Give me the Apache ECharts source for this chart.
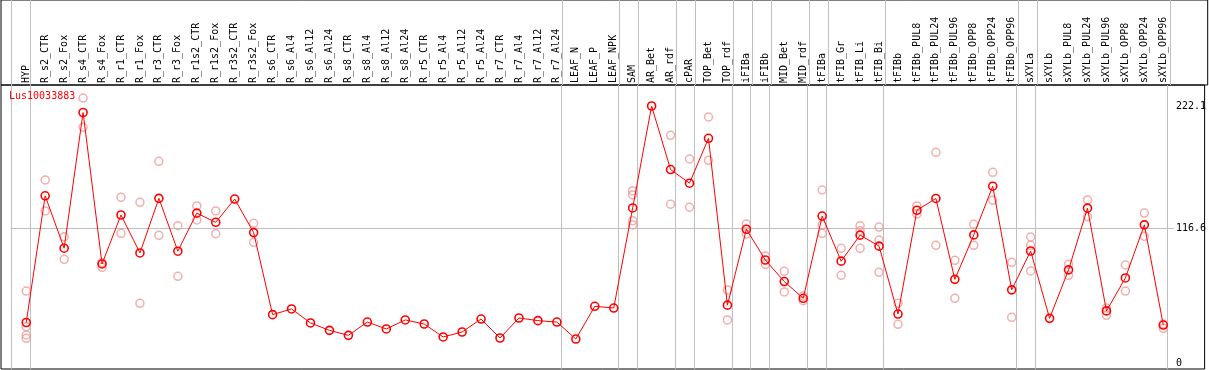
<!DOCTYPE html>
<html>
<head>
<meta charset="utf-8">
<script src="https://cdn.jsdelivr.net/npm/echarts@6/dist/echarts.min.js"></script>
<style>html,body{margin:0;padding:0;background:#fff;}#c{width:1209px;height:370px;}</style>
</head>
<body>
<div id="c"></div>
<script>
const seriesName = 'Lus10033883';
const categories = ['HYP','R_s2_CTR','R_s2_Fox','R_s4_CTR','R_s4_Fox','R_r1_CTR','R_r1_Fox','R_r3_CTR','R_r3_Fox','R_r1s2_CTR','R_r1s2_Fox','R_r3s2_CTR','R_r3s2_Fox','R_s6_CTR','R_s6_Al4','R_s6_Al12','R_s6_Al24','R_s8_CTR','R_s8_Al4','R_s8_Al12','R_s8_Al24','R_r5_CTR','R_r5_Al4','R_r5_Al12','R_r5_Al24','R_r7_CTR','R_r7_Al4','R_r7_Al12','R_r7_Al24','LEAF_N','LEAF_P','LEAF_NPK','SAM','AR_Bet','AR_rdf','cPAR','TOP_Bet','TOP_rdf','iFIBa','iFIBb','MID_Bet','MID_rdf','tFIBa','tFIB_Gr','tFIB_Li','tFIB_Bi','tFIBb','tFIBb_PUL8','tFIBb_PUL24','tFIBb_PUL96','tFIBb_OPP8','tFIBb_OPP24','tFIBb_OPP96','sXYLa','sXYLb','sXYLb_PUL8','sXYLb_PUL24','sXYLb_PUL96','sXYLb_OPP8','sXYLb_OPP24','sXYLb_OPP96'];
const means = [35.0,144.5,99.2,216.5,85.6,127.9,95.1,142.3,96.6,129.5,121.6,141.7,112.7,41.8,46.7,34.6,28.2,23.9,35.4,29.4,37.2,33.7,22.5,26.8,38.0,21.6,38.9,36.6,35.4,20.7,49.0,47.5,134.0,222.1,167.2,155.4,194.2,50.0,115.6,89.0,70.4,55.9,127.0,88.0,110.5,101.0,42.3,132.0,142.2,72.3,110.7,152.8,63.2,96.8,38.6,80.5,133.8,45.0,73.5,119.4,32.8];
const replicates = [[62.2,31.4,24.2,21.3],[158.2,131.4],[109.2,89.6],[229.0,203.7],[86.7,82.7],[143.2,112.1],[138.9,51.6],[174.3,110.3],[118.7,74.9],[135.7,123.6],[131.4,111.8],[],[120.7,104.3],
[],[],[],[],[],[],[],[],[],[],[],[],[],[],[],[],[],[],[],
[148.9,145.2,123.0,119.3],[],[196.8,137.2],[176.3,134.6],[212.6,175.2],[63.1,37.2],[120.1,111.5],[92.5,85.3],[79.2,61.4],[57.9,53.8],[149.5,119.3,112.1],[99.1,75.8],[118.7,114.3,99.1],[117.5,106.3,78.4],[51.6,33.4],[135.7,128.8],[182.1,101.7],[88.7,55.9],[119.9,101.7],[164.8,140.6],[87.0,39.5],[108.9,101.7,79.5],[],[85.3,75.8],[140.9,126.4],[47.5,41.2],[84.7,62.2],[129.6,109.5],[33.7,30.0]];
const groupSizes = [1,28,3,1,2,1,2,1,1,2,1,3,7,1,7];
const yTickValues = [0, 116.6, 222.1];
const refLineValue = 116.6;

// layout constants
const X_MIN = -1.3316, X_MAX = 62.179, Y_MIN = -5.19, Y_MAX = 240.25;
const SEP_OFFSET = 0.225;
const FONT = '"DejaVu Sans Mono", "Liberation Mono", monospace';

const idx = categories.map((_, i) => i);
const meanData = means.map((v, i) => [i, v]);
const repData = [];
replicates.forEach((arr, i) => arr.forEach(v => repData.push([i, v])));
const sepPositions = [-1 + SEP_OFFSET];
let acc = -1;
groupSizes.forEach(s => { acc += s; sepPositions.push(acc + SEP_OFFSET); });
const sepLines = sepPositions.map(x => ({ xAxis: x }));
const grayLine = { color: '#c0c0c0', width: 1, type: 'solid' };

const chart = echarts.init(document.getElementById('c'), null, { renderer: 'canvas' });
chart.setOption({
  animation: false,
  backgroundColor: '#fff',
  title: { text: seriesName, left: 9, top: 91, padding: 0,
    textStyle: { color: '#ff0000', fontSize: 10, fontWeight: 'normal', fontFamily: FONT } },
  grid: [
    { left: 1, right: 1.3, top: 85, bottom: 1, show: true, borderColor: '#000', borderWidth: 1, backgroundColor: 'transparent' },
    { left: 1, right: 1.3, top: 0, height: 85, show: true, borderColor: '#000', borderWidth: 1, backgroundColor: 'transparent' }
  ],
  xAxis: [
    { gridIndex: 0, type: 'value', position: 'top', min: X_MIN, max: X_MAX,
      axisLine: { show: false }, axisTick: { show: false }, splitLine: { show: false },
      axisLabel: { customValues: idx, formatter: v => categories[Math.round(v)] || '',
        rotate: 90, margin: 2, color: '#000', fontSize: 10, fontFamily: FONT } },
    { gridIndex: 1, type: 'value', min: X_MIN, max: X_MAX, show: false }
  ],
  yAxis: [
    { gridIndex: 0, type: 'value', position: 'right', min: Y_MIN, max: Y_MAX,
      axisLine: { show: false }, axisTick: { show: false }, splitLine: { show: false },
      axisLabel: { customValues: yTickValues, inside: true, align: 'left', margin: 28.7,
        formatter: v => String(v), color: '#000', fontSize: 10, fontFamily: FONT } },
    { gridIndex: 1, type: 'value', min: 0, max: 1, show: false }
  ],
  series: [
    { type: 'scatter', xAxisIndex: 1, yAxisIndex: 1, data: [], silent: true,
      markLine: { silent: true, symbol: ['none','none'], label: { show: false }, lineStyle: grayLine, data: sepLines } },
    { type: 'scatter', xAxisIndex: 0, yAxisIndex: 0, data: repData, symbol: 'circle', symbolSize: 8, z: 2,
      itemStyle: { color: 'rgba(0,0,0,0)', borderColor: '#f09a9a', borderWidth: 1.5 },
      markLine: { silent: true, symbol: ['none','none'], label: { show: false }, lineStyle: grayLine, z: 1,
        data: sepLines.concat([[ { coord: [-1 + SEP_OFFSET - 0.05, refLineValue] }, { coord: [60.55, refLineValue] } ]]) } },
    { type: 'line', xAxisIndex: 0, yAxisIndex: 0, data: meanData, symbol: 'circle', symbolSize: 8, z: 3,
      lineStyle: { color: '#ff0000', width: 1 },
      itemStyle: { color: 'rgba(0,0,0,0)', borderColor: '#ff0000', borderWidth: 1.6 } }
  ]
});
</script>
</body>
</html>
